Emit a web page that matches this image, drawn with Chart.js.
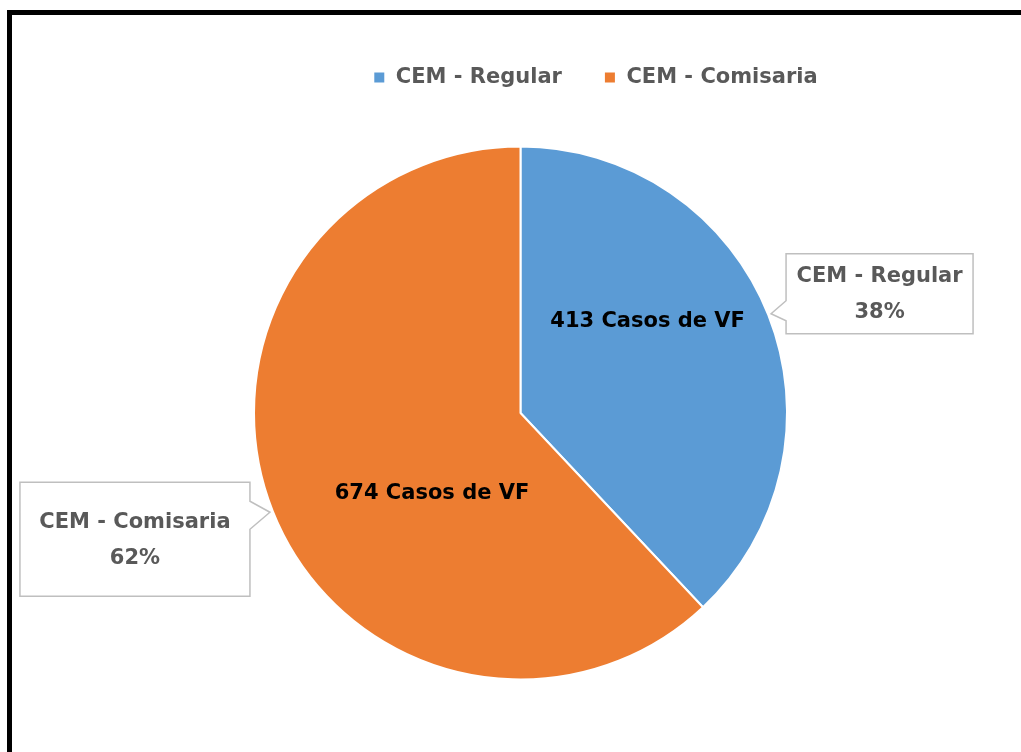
<!DOCTYPE html>
<html>
<head>
<meta charset="utf-8">
<script src="https://cdn.jsdelivr.net/npm/chart.js@4.4.0/dist/chart.umd.min.js"></script>
<style>
  html, body { margin: 0; padding: 0; background: #fff; }
</style>
</head>
<body>
<canvas id="pie" width="1021" height="752"></canvas>
<script>
var categories = ['CEM - Regular', 'CEM - Comisaria'];
var casos = [413, 674];
var colores = ['#5B9BD5', '#ED7D31'];

var FONT = '"DejaVu Sans", sans-serif';
var total = casos.reduce(function (a, b) { return a + b; }, 0);

// white page + black frame (frame runs off the right/bottom edge)
var framePlugin = {
  id: 'frame',
  beforeDraw: function (chart) {
    var c = chart.ctx;
    c.save();
    c.fillStyle = '#fff';
    c.fillRect(0, 0, chart.width, chart.height);
    c.restore();
  },
  afterDraw: function (chart) {
    var c = chart.ctx;
    c.save();
    c.strokeStyle = '#000';
    c.lineWidth = 5;
    c.strokeRect(9.5, 12.5, 1100, 1000);
    c.restore();
  }
};

// legend sits to the right of the pie centre in the original
var legendShift = {
  id: 'legendShift',
  afterLayout: function (chart) {
    chart.legend.left += 75;
    chart.legend.right += 75;
  }
};

// inner "N Casos de VF" labels and the callout boxes with name + percentage
var labelsPlugin = {
  id: 'pieLabels',
  afterDatasetsDraw: function (chart, args, opts) {
    var c = chart.ctx;
    var arcs = chart.getDatasetMeta(0).data;
    c.save();
    c.font = 'bold 21px ' + FONT;
    c.textAlign = 'center';
    c.textBaseline = 'middle';

    arcs.forEach(function (arc, i) {
      var r = arc.outerRadius;
      var inner = opts.inner[i];
      c.fillStyle = '#000';
      c.fillText(casos[i] + ' Casos de VF', arc.x + inner[0] * r, arc.y + inner[1] * r);

      var mid = (arc.startAngle + arc.endAngle) / 2;
      var tx = arc.x + Math.cos(mid) * (r + 3);
      var ty = arc.y + Math.sin(mid) * (r + 3);
      var co = opts.callout[i];
      var top = ty + co.dy - co.h / 2, bottom = top + co.h;
      var left, right;
      if (co.side === 'right') { left = tx + co.gap; right = left + co.w; }
      else { right = tx - co.gap; left = right - co.w; }

      c.beginPath();
      if (co.side === 'right') {
        c.moveTo(left, top);
        c.lineTo(right, top);
        c.lineTo(right, bottom);
        c.lineTo(left, bottom);
        c.lineTo(left, ty + co.tail[1]);
        c.lineTo(tx, ty);
        c.lineTo(left, ty + co.tail[0]);
      } else {
        c.moveTo(left, top);
        c.lineTo(right, top);
        c.lineTo(right, ty + co.tail[0]);
        c.lineTo(tx, ty);
        c.lineTo(right, ty + co.tail[1]);
        c.lineTo(right, bottom);
        c.lineTo(left, bottom);
      }
      c.closePath();
      c.fillStyle = '#fff';
      c.fill();
      c.strokeStyle = '#BFBFBF';
      c.lineWidth = 1.5;
      c.stroke();

      var cx = (left + right) / 2, cy = (top + bottom) / 2;
      c.fillStyle = '#595959';
      c.fillText(categories[i], cx, cy - 17);
      c.fillText(Math.round(casos[i] / total * 100) + '%', cx, cy + 19);
    });
    c.restore();
  }
};

new Chart(document.getElementById('pie'), {
  type: 'pie',
  data: {
    labels: categories,
    datasets: [{
      data: casos,
      backgroundColor: colores,
      borderColor: '#fff',
      borderWidth: 2
    }]
  },
  options: {
    responsive: false,
    animation: false,
    layout: {
      padding: { top: 25, left: 253, right: 233, bottom: 24 }
    },
    plugins: {
      legend: {
        position: 'top',
        labels: {
          boxWidth: 12,
          boxHeight: 12,
          padding: 42,
          color: '#595959',
          font: { family: FONT, size: 21, weight: 'bold' }
        }
      },
      tooltip: { enabled: false },
      pieLabels: {
        inner: [[0.477, -0.345], [-0.332, 0.304]],
        callout: [
          { side: 'right', gap: 15, w: 187, h: 80, dy: -20, tail: [-13, 7] },
          { side: 'left', gap: 20, w: 230, h: 114, dy: 27, tail: [-11, 17] }
        ]
      }
    }
  },
  plugins: [framePlugin, legendShift, labelsPlugin]
});
</script>
</body>
</html>
